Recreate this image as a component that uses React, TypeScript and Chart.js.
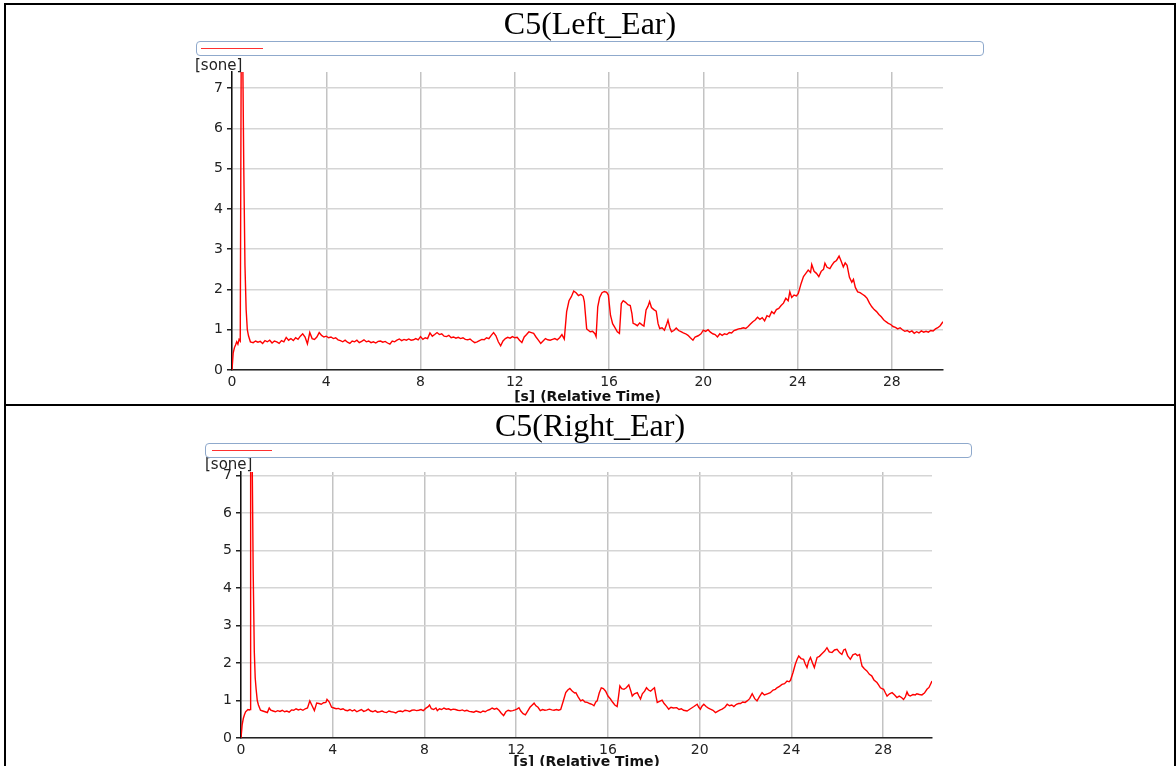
import React, { useEffect, useRef } from "react";
import { Chart, registerables } from "chart.js";

Chart.register(...registerables);

// ---------- data ----------
const leftTitle = "C5(Left_Ear)";
const rightTitle = "C5(Right_Ear)";
const yUnitLabel = "[sone]";
const xAxisTitle = "[s] (Relative Time)";

const leftTime = [
  0, 0.05, 0.1, 0.15, 0.2, 0.25, 0.3, 0.35, 0.4, 0.45, 0.5, 0.55, 0.6, 0.65, 0.7, 0.78,
  0.9, 1.0, 1.1, 1.2, 1.3, 1.4, 1.5, 1.6, 1.7, 1.8, 1.9, 2.0, 2.1, 2.2, 2.3, 2.4, 2.5, 2.6, 2.7, 2.8, 2.9,
  3.0, 3.1, 3.2, 3.3, 3.4, 3.5, 3.6, 3.7, 3.8, 3.9, 4.0, 4.1, 4.2, 4.3, 4.4, 4.5, 4.6, 4.7, 4.8, 4.9,
  5.0, 5.1, 5.2, 5.3, 5.4, 5.5, 5.6, 5.7, 5.8, 5.9, 6.0, 6.1, 6.2, 6.3, 6.4, 6.5, 6.6, 6.7, 6.8, 6.9,
  7.0, 7.1, 7.2, 7.3, 7.4, 7.5, 7.6, 7.7, 7.8, 7.9, 8.0, 8.1, 8.2, 8.3, 8.4, 8.5, 8.6, 8.7, 8.8, 8.9,
  9.0, 9.1, 9.2, 9.3, 9.4, 9.5, 9.6, 9.7, 9.8, 9.9, 10.0, 10.1, 10.2, 10.3, 10.4, 10.5, 10.6, 10.7, 10.8, 10.9,
  11.0, 11.1, 11.2, 11.3, 11.4, 11.5, 11.6, 11.7, 11.8, 11.9, 12.0, 12.1, 12.2, 12.3, 12.4, 12.5, 12.6, 12.7, 12.8, 12.9,
  13.0, 13.1, 13.2, 13.3, 13.4, 13.5, 13.6, 13.7, 13.8, 13.9, 14.0, 14.1, 14.2, 14.3, 14.4, 14.5, 14.6, 14.7, 14.8, 14.9,
  14.95, 15.05, 15.2, 15.3, 15.4, 15.45, 15.52, 15.6, 15.7, 15.8, 15.9, 15.97, 16.06, 16.15, 16.25, 16.35, 16.44,
  16.52, 16.6, 16.7, 16.8, 16.9, 16.97, 17.02, 17.1, 17.2, 17.3, 17.4, 17.48, 17.57, 17.65, 17.72, 17.8, 17.9, 18.0,
  18.08, 18.15, 18.25, 18.35, 18.45, 18.5, 18.58, 18.65, 18.75, 18.85, 18.95, 19.05, 19.15, 19.25, 19.35, 19.45,
  19.56, 19.65, 19.78, 19.9, 20.0, 20.1, 20.2, 20.3, 20.4, 20.5, 20.6, 20.7, 20.8, 20.9, 21.0, 21.1, 21.2, 21.3,
  21.4, 21.5, 21.6, 21.7, 21.8, 21.9, 22.0, 22.1, 22.2, 22.3, 22.4, 22.5, 22.6, 22.7, 22.8, 22.9, 23.0, 23.1, 23.2,
  23.3, 23.4, 23.5, 23.6, 23.67, 23.75, 23.85, 23.95, 24.03, 24.15, 24.25, 24.35, 24.45, 24.55, 24.6, 24.7, 24.8,
  24.9, 25.0, 25.1, 25.16, 25.25, 25.37, 25.45, 25.55, 25.65, 25.76, 25.85, 25.94, 26.02, 26.1, 26.2, 26.3, 26.37,
  26.45, 26.55, 26.65, 26.75, 26.85, 26.95, 27.05, 27.15, 27.25, 27.35, 27.45, 27.55, 27.65, 27.75, 27.85, 27.95,
  28.05, 28.15, 28.25, 28.35, 28.45, 28.55, 28.65, 28.75, 28.85, 28.95, 29.05, 29.15, 29.25, 29.35, 29.45, 29.55,
  29.65, 29.75, 29.85, 29.95, 30.05, 30.17,
];
const leftSone = [
  0, 0.42, 0.55, 0.62, 0.7, 0.64, 0.76, 0.72, 9.5, 8.2, 5.0, 2.6, 1.5, 1.0, 0.85, 0.7,
  0.68, 0.72, 0.69, 0.71, 0.66, 0.73, 0.7, 0.74, 0.67, 0.72, 0.7, 0.66, 0.73, 0.7, 0.81, 0.74, 0.78, 0.73, 0.8, 0.76, 0.84,
  0.9, 0.82, 0.65, 0.93, 0.78, 0.76, 0.82, 0.93, 0.86, 0.82, 0.84, 0.8, 0.82, 0.78, 0.8, 0.75, 0.73, 0.7, 0.74, 0.69,
  0.66, 0.72, 0.7, 0.74, 0.68, 0.71, 0.75, 0.7, 0.72, 0.68, 0.7, 0.67, 0.71, 0.72, 0.69, 0.71, 0.67, 0.64, 0.72, 0.7,
  0.74, 0.77, 0.73, 0.76, 0.74, 0.77, 0.74, 0.75, 0.78, 0.75, 0.83, 0.76, 0.8, 0.78, 0.92, 0.84, 0.88, 0.93, 0.88, 0.9,
  0.84, 0.83, 0.86, 0.8, 0.82, 0.79, 0.81, 0.78, 0.8, 0.76, 0.75, 0.77, 0.72, 0.68, 0.7, 0.73, 0.76, 0.75, 0.8, 0.78,
  0.86, 0.93, 0.85, 0.7, 0.6, 0.72, 0.78, 0.81, 0.79, 0.83, 0.8, 0.81, 0.74, 0.68, 0.82, 0.88, 0.95, 0.93, 0.91, 0.82,
  0.74, 0.66, 0.72, 0.78, 0.75, 0.74, 0.76, 0.78, 0.75, 0.8, 0.88, 0.77, 1.45, 1.72, 1.82, 1.96, 1.92, 1.85, 1.88, 1.83,
  1.7, 1.02, 0.95, 0.96, 0.9, 0.83, 1.57, 1.8, 1.92, 1.95, 1.93, 1.86, 1.36, 1.15, 1.05, 0.95, 0.91,
  1.65, 1.72, 1.68, 1.62, 1.6, 1.4, 1.16, 1.14, 1.1, 1.17, 1.12, 1.09, 1.49, 1.58, 1.7, 1.55, 1.5, 1.46,
  1.15, 1.03, 1.05, 0.99, 1.15, 1.24, 1.05, 0.95, 0.98, 1.04, 0.98, 0.95, 0.92, 0.9, 0.86, 0.8,
  0.74, 0.82, 0.85, 0.9, 0.99, 0.96, 1.0, 0.94, 0.9, 0.88, 0.82, 0.9, 0.86, 0.9, 0.88, 0.93, 0.92, 0.98,
  1.0, 1.02, 1.03, 1.05, 1.03, 1.08, 1.14, 1.2, 1.24, 1.31, 1.26, 1.3, 1.22, 1.35, 1.32, 1.45, 1.4, 1.5, 1.53,
  1.6, 1.66, 1.78, 1.72, 1.94, 1.8, 1.86, 1.84, 1.9, 2.15, 2.32, 2.4, 2.48, 2.42, 2.62, 2.45, 2.4,
  2.32, 2.45, 2.5, 2.65, 2.55, 2.52, 2.6, 2.68, 2.72, 2.83, 2.7, 2.56, 2.66, 2.6, 2.3, 2.18, 2.25,
  2.05, 1.94, 1.92, 1.88, 1.84, 1.78, 1.66, 1.57, 1.5, 1.45, 1.38, 1.32, 1.25, 1.2, 1.16, 1.13,
  1.08, 1.06, 1.02, 1.05, 1.0, 0.96, 0.98, 0.94, 0.97, 0.91, 0.95, 0.92, 0.97, 0.94, 0.96, 0.94,
  0.98, 0.97, 1.02, 1.05, 1.1, 1.2,
];

const rightTime = [
  0, 0.05, 0.1, 0.15, 0.2, 0.25, 0.3, 0.36, 0.4, 0.42, 0.48, 0.53, 0.58, 0.62, 0.66, 0.71, 0.76, 0.85, 0.95,
  1.05, 1.15, 1.23, 1.3, 1.4, 1.5, 1.6, 1.7, 1.8, 1.9, 2.0, 2.1, 2.2, 2.3, 2.4, 2.5, 2.6, 2.7, 2.8, 2.9,
  3.0, 3.1, 3.2, 3.3, 3.4, 3.5, 3.6, 3.7, 3.75, 3.85, 3.95, 4.05, 4.15, 4.25, 4.35, 4.45, 4.55, 4.65, 4.75, 4.85, 4.95,
  5.05, 5.15, 5.25, 5.35, 5.45, 5.55, 5.65, 5.75, 5.85, 5.95, 6.05, 6.15, 6.25, 6.35, 6.45, 6.55, 6.65, 6.75, 6.85, 6.95,
  7.05, 7.15, 7.25, 7.35, 7.45, 7.55, 7.65, 7.75, 7.85, 7.95, 8.05, 8.15, 8.22, 8.3, 8.4, 8.5, 8.56, 8.65, 8.75, 8.85, 8.95,
  9.05, 9.15, 9.25, 9.35, 9.45, 9.55, 9.65, 9.75, 9.85, 9.95, 10.05, 10.15, 10.25, 10.35, 10.45, 10.55, 10.65, 10.75, 10.85, 10.95,
  11.05, 11.15, 11.25, 11.35, 11.45, 11.55, 11.65, 11.75, 11.85, 11.95, 12.05, 12.12, 12.2, 12.3, 12.4, 12.5, 12.6, 12.7, 12.78, 12.86, 12.95,
  13.05, 13.15, 13.25, 13.35, 13.45, 13.55, 13.65, 13.75, 13.85, 13.94, 14.05, 14.16, 14.25, 14.34, 14.45, 14.55, 14.6, 14.7, 14.81, 14.9,
  15.0, 15.1, 15.2, 15.3, 15.39, 15.47, 15.53, 15.62, 15.71, 15.8, 15.9, 16.0, 16.11, 16.2, 16.3, 16.4, 16.46, 16.52, 16.6, 16.7, 16.8, 16.91,
  17.0, 17.06, 17.15, 17.28, 17.35, 17.42, 17.5, 17.6, 17.68, 17.77, 17.86, 17.95, 18.03, 18.1, 18.15, 18.25, 18.36, 18.45, 18.55, 18.65, 18.75, 18.85,
  19.0, 19.1, 19.2, 19.3, 19.45, 19.55, 19.65, 19.75, 19.89, 19.96, 20.03, 20.1, 20.18, 20.28, 20.38, 20.47, 20.58, 20.69, 20.8, 20.9, 20.98,
  21.1, 21.2, 21.3, 21.4, 21.49, 21.6, 21.7, 21.78, 21.88, 21.98, 22.07, 22.18, 22.29, 22.4, 22.5, 22.6, 22.72, 22.82, 22.95,
  23.08, 23.2, 23.3, 23.37, 23.48, 23.59, 23.7, 23.81, 23.9, 23.96, 24.07, 24.17, 24.25, 24.32, 24.42, 24.53, 24.6, 24.68, 24.75, 24.83, 24.92,
  25.0, 25.06, 25.12, 25.22, 25.33, 25.45, 25.55, 25.65, 25.77, 25.88, 25.99, 26.1, 26.2, 26.28, 26.35, 26.45, 26.57, 26.68, 26.79, 26.88, 26.97,
  27.03, 27.08, 27.18, 27.29, 27.4, 27.5, 27.6, 27.73, 27.8, 27.88, 27.95, 28.02, 28.1, 28.17, 28.28, 28.39, 28.5, 28.6, 28.7, 28.8, 28.89, 28.97,
  29.04, 29.1, 29.18, 29.3, 29.4, 29.47, 29.58, 29.69, 29.8, 29.91, 30.0, 30.13,
];
const rightSone = [
  0, 0.35, 0.52, 0.62, 0.7, 0.73, 0.76, 0.75, 0.76, 9.0, 8.0, 4.5, 2.3, 1.6, 1.3, 1.0, 0.88, 0.74, 0.72,
  0.7, 0.68, 0.8, 0.74, 0.72, 0.7, 0.73, 0.71, 0.74, 0.7, 0.72, 0.69, 0.75, 0.74, 0.78, 0.75, 0.77, 0.74, 0.78, 0.8,
  0.99, 0.86, 0.73, 0.93, 0.92, 0.9, 0.94, 0.95, 1.03, 0.96, 0.82, 0.8, 0.78, 0.79, 0.76, 0.78, 0.74, 0.73, 0.76, 0.72, 0.75,
  0.7, 0.73, 0.76, 0.71, 0.73, 0.77, 0.72, 0.7, 0.73, 0.69, 0.7, 0.72, 0.69, 0.68, 0.72, 0.7, 0.69, 0.67, 0.71, 0.72,
  0.7, 0.74, 0.73, 0.71, 0.74, 0.75, 0.73, 0.74, 0.76, 0.73, 0.79, 0.83, 0.88, 0.78, 0.76, 0.8, 0.73, 0.78, 0.76, 0.8, 0.77,
  0.78, 0.75, 0.77, 0.76, 0.74, 0.73, 0.75, 0.72, 0.74, 0.71, 0.7, 0.69, 0.72, 0.7, 0.68, 0.72, 0.7, 0.74, 0.76, 0.8,
  0.77, 0.79, 0.74, 0.66, 0.6, 0.7, 0.74, 0.72, 0.73, 0.75, 0.78, 0.81, 0.72, 0.65, 0.62, 0.72, 0.82, 0.88, 0.93, 0.86, 0.82,
  0.73, 0.76, 0.74, 0.75, 0.77, 0.75, 0.74, 0.76, 0.74, 0.76, 0.98, 1.21, 1.28, 1.32, 1.25, 1.2, 1.21, 1.1, 0.99, 1.02,
  0.96, 0.95, 0.92, 0.9, 0.86, 0.96, 0.99, 1.2, 1.34, 1.32, 1.25, 1.12, 1.04, 0.96, 0.88, 0.84, 1.1, 1.39, 1.32, 1.3, 1.34, 1.42,
  1.25, 1.12, 1.18, 1.21, 1.12, 1.04, 1.18, 1.25, 1.34, 1.28, 1.25, 1.3, 1.34, 1.1, 0.95, 0.98, 1.01, 0.92, 0.85, 0.77, 0.82, 0.8,
  0.81, 0.76, 0.78, 0.74, 0.72, 0.76, 0.8, 0.84, 0.9, 0.82, 0.77, 0.85, 0.9, 0.84, 0.8, 0.77, 0.74, 0.68, 0.72, 0.75, 0.77,
  0.82, 0.9, 0.86, 0.88, 0.84, 0.9, 0.92, 0.92, 0.96, 0.95, 0.99, 1.05, 1.18, 1.05, 0.99, 1.1, 1.21, 1.15, 1.18,
  1.21, 1.28, 1.3, 1.34, 1.38, 1.43, 1.45, 1.52, 1.5, 1.54, 1.75, 1.97, 2.1, 2.19, 2.12, 2.1, 1.98, 1.88, 2.05, 2.15, 2.0,
  1.88, 2.02, 2.15, 2.18, 2.25, 2.32, 2.41, 2.3, 2.28, 2.35, 2.37, 2.28, 2.23, 2.35, 2.37, 2.2, 2.1, 2.22, 2.25, 2.2, 2.23,
  2.05, 1.92, 1.85, 1.79, 1.7, 1.66, 1.55, 1.48, 1.42, 1.34, 1.32, 1.3, 1.2, 1.12, 1.18, 1.21, 1.15, 1.08, 1.12, 1.08, 1.03, 1.1,
  1.23, 1.15, 1.12, 1.16, 1.15, 1.18, 1.16, 1.15, 1.2, 1.3, 1.35, 1.52,
];

const xTickStep = 4;
const yTickStep = 1;

// ---------- helpers ----------
const FONT = '"DejaVu Sans", Verdana, sans-serif';

const unitLabelPlugin = {
  id: "unitLabel",
  afterDraw(chart: any, _args: any, opts: any) {
    const ctx = chart.ctx;
    ctx.save();
    ctx.font = `15px ${FONT}`;
    ctx.fillStyle = "#222";
    ctx.textBaseline = "alphabetic";
    ctx.textAlign = "left";
    ctx.fillText(opts.text, opts.x, opts.y);
    ctx.restore();
  },
};

function makeConfig(
  times: number[],
  values: number[],
  o: {
    xMax: number;
    yMax: number;
    yWidth: number;
    xHeight: number;
    padRight: number;
    padTop: number;
    titlePadBottom: number;
    unitX: number;
    unitY: number;
  }
): any {
  const data = times.map((t, i) => ({ x: t, y: values[i] }));
  return {
    type: "line",
    data: {
      datasets: [
        {
          data,
          borderColor: "#ff0000",
          borderWidth: 1.4,
          pointRadius: 0,
          tension: 0,
          fill: false,
        },
      ],
    },
    options: {
      responsive: false,
      animation: false,
      devicePixelRatio: 1,
      layout: { padding: { left: 0, right: o.padRight, top: o.padTop, bottom: 0 } },
      plugins: {
        legend: { display: false },
        title: { display: false },
        tooltip: { enabled: false },
        unitLabel: { text: yUnitLabel, x: o.unitX, y: o.unitY },
      },
      scales: {
        x: {
          type: "linear",
          min: 0,
          max: o.xMax,
          afterFit: (s: any) => {
            s.height = o.xHeight;
          },
          grid: { color: "#c3c3c3", lineWidth: 1.5, drawTicks: false },
          border: { display: true, color: "#222", width: 1.5 },
          ticks: {
            stepSize: xTickStep,
            includeBounds: false,
            padding: 4,
            maxRotation: 0,
            autoSkip: false,
            color: "#222",
            font: { family: FONT, size: 14 },
          },
          title: {
            display: true,
            text: xAxisTitle,
            color: "#111",
            font: { family: FONT, size: 14, weight: "bold", lineHeight: 1 },
            padding: { top: 0, bottom: o.titlePadBottom },
          },
        },
        y: {
          type: "linear",
          min: 0,
          max: o.yMax,
          afterFit: (s: any) => {
            s.width = o.yWidth;
          },
          grid: {
            color: "#d5d5d5",
            lineWidth: 1.5,
            drawTicks: true,
            tickLength: 5,
            tickColor: "#222",
          },
          border: { display: true, color: "#111", width: 1.5 },
          ticks: {
            stepSize: yTickStep,
            includeBounds: false,
            padding: 4,
            color: "#222",
            font: { family: FONT, size: 14 },
          },
        },
      },
    },
    plugins: [unitLabelPlugin],
  };
}

export default function App() {
  const topRef = useRef<HTMLCanvasElement | null>(null);
  const botRef = useRef<HTMLCanvasElement | null>(null);

  useEffect(() => {
    const c1 = new Chart(
      topRef.current as HTMLCanvasElement,
      makeConfig(leftTime, leftSone, {
        xMax: 30.17,
        yMax: 7.4,
        yWidth: 232,
        xHeight: 34,
        padRight: 233,
        padTop: 72,
        titlePadBottom: 0,
        unitX: 195,
        unitY: 70,
      })
    );
    const c2 = new Chart(
      botRef.current as HTMLCanvasElement,
      makeConfig(rightTime, rightSone, {
        xMax: 30.13,
        yMax: 7.1,
        yWidth: 241,
        xHeight: 38,
        padRight: 244,
        padTop: 66,
        titlePadBottom: 6.5,
        unitX: 205,
        unitY: 62.5,
      })
    );
    return () => {
      c1.destroy();
      c2.destroy();
    };
  }, []);

  const titleStyle: React.CSSProperties = {
    position: "absolute",
    left: 6,
    width: 1168,
    textAlign: "center",
    fontFamily: '"Liberation Serif", "Times New Roman", serif',
    fontSize: 32,
    lineHeight: "32px",
    color: "#000",
    whiteSpace: "nowrap",
  };

  const boxStyle = (left: number, top: number, width: number): React.CSSProperties => ({
    position: "absolute",
    left,
    top,
    width,
    height: 15,
    boxSizing: "border-box",
    border: "1.5px solid #8fa9cc",
    borderRadius: 4,
    background: "#fff",
  });

  const lineStyle = (left: number, top: number, width: number): React.CSSProperties => ({
    position: "absolute",
    left,
    top,
    width,
    height: 1.5,
    background: "#ff3030",
  });

  return (
    <div
      style={{
        position: "fixed",
        left: 0,
        top: 0,
        width: 1176,
        height: 766,
        overflow: "hidden",
        background: "#fff",
      }}
    >
      <canvas
        ref={topRef}
        width={1176}
        height={404}
        style={{ position: "absolute", left: 0, top: 0, display: "block" }}
      />
      <canvas
        ref={botRef}
        width={1176}
        height={370}
        style={{ position: "absolute", left: 0, top: 406, display: "block" }}
      />

      <div style={{ ...titleStyle, top: 7 }}>{leftTitle}</div>
      <div style={{ ...titleStyle, top: 409 }}>{rightTitle}</div>

      <div style={boxStyle(196, 41, 788)} />
      <div style={lineStyle(201, 47.5, 62)} />
      <div style={boxStyle(205, 443, 767)} />
      <div style={lineStyle(212, 449.5, 60)} />

      <div
        style={{
          position: "absolute",
          left: 4,
          top: 3,
          width: 1172,
          height: 800,
          boxSizing: "border-box",
          border: "2px solid #000",
          pointerEvents: "none",
        }}
      />
      <div
        style={{
          position: "absolute",
          left: 4,
          top: 404,
          width: 1172,
          height: 2,
          background: "#000",
        }}
      />
    </div>
  );
}
